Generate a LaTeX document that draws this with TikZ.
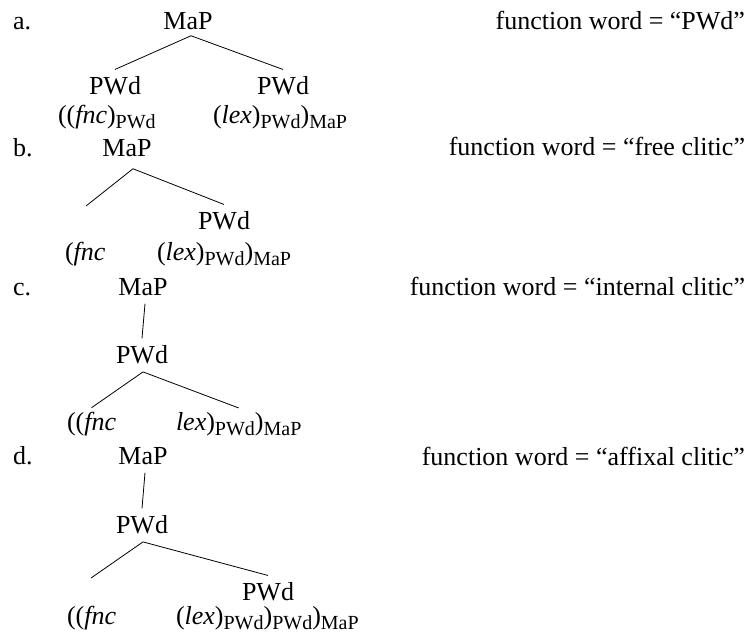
\documentclass[tikz,border=0pt]{standalone}
\usepackage{fontspec}
\setmainfont{Liberation Serif}
\newcommand\sbs[1]{\raisebox{-5pt}{\fontsize{20}{22}\selectfont #1}}
\begin{document}
\begin{tikzpicture}[x=1pt,y=-1pt,
  every node/.style={inner sep=0pt,outer sep=0pt,font=\fontsize{26}{30}\selectfont},
  tn/.style={anchor=base,outer ysep=6.5pt},
  leaf/.style={anchor=base west,outer ysep=4pt},
  lbl/.style={anchor=base west},
  note/.style={anchor=base east},
  edge/.style={line width=0.8pt}]
\useasboundingbox (0,0) rectangle (752,641);
% a
\node[lbl] (la) at (13,29) {a.};
\node[tn] (a0) at (188,29) {MaP};
\node[tn] (a1) at (115,94) {PWd};
\node[tn] (a2) at (283,94) {PWd};
\node[leaf] (a3) at (58,123) {((\textit{fnc})\sbs{PWd}};
\node[leaf] (a4) at (213,123) {(\textit{lex})\sbs{PWd})\sbs{MaP}};
\node[note] (ar) at (745,29) {function word = “PWd”};
\draw[edge] ([xshift=3pt]a0.south) -- (a1.north);
\draw[edge] ([xshift=3pt]a0.south) -- (a2.north);
% b
\node[lbl] (lb) at (13,156) {b.};
\node[tn] (b0) at (127,156) {MaP};
\coordinate (b1) at (86,206);
\node[tn] (b2) at (224,229) {PWd};
\node[leaf] (b3) at (65,260) {(\textit{fnc}};
\node[leaf] (b4) at (157,260) {(\textit{lex})\sbs{PWd})\sbs{MaP}};
\node[note] (br) at (745,155) {function word = “free clitic”};
\draw[edge] ([xshift=6pt,yshift=-6pt]b0.south) -- (b1);
\draw[edge] ([xshift=6pt,yshift=-6pt]b0.south) -- (b2.north);
% c
\node[lbl] (lc) at (13,295) {c.};
\node[tn] (c0) at (143,295) {MaP};
\node[tn] (c1) at (142,363) {PWd};
\node[leaf] (c2) at (67,430) {((\textit{fnc}};
\node[leaf] (c3) at (176,430) {\textit{lex})\sbs{PWd})\sbs{MaP}};
\node[note] (cr) at (745,295) {function word = “internal clitic”};
\draw[edge] ([xshift=2pt,yshift=-2pt]c0.south) -- (c1.north);
\draw[edge] ([xshift=1pt,yshift=-2pt]c1.south) -- (c2.north);
\draw[edge] ([xshift=1pt,yshift=-2pt]c1.south) -- (c3.north);
% d
\node[lbl] (ld) at (13,464) {d.};
\node[tn] (d0) at (143,464) {MaP};
\node[tn] (d1) at (142,533) {PWd};
\coordinate (d2) at (91,578);
\node[tn] (d3) at (268,600) {PWd};
\node[leaf] (d4) at (67,624) {((\textit{fnc}};
\node[leaf] (d5) at (176,624) {(\textit{lex})\sbs{PWd})\sbs{PWd})\sbs{MaP}};
\node[note] (dr) at (745,465) {function word = “affixal clitic”};
\draw[edge] ([xshift=2pt,yshift=-2pt]d0.south) -- (d1.north);
\draw[edge] ([xshift=1pt,yshift=-2pt]d1.south) -- (d2);
\draw[edge] ([xshift=1pt,yshift=-2pt]d1.south) -- (d3.north);
\end{tikzpicture}
\end{document}
